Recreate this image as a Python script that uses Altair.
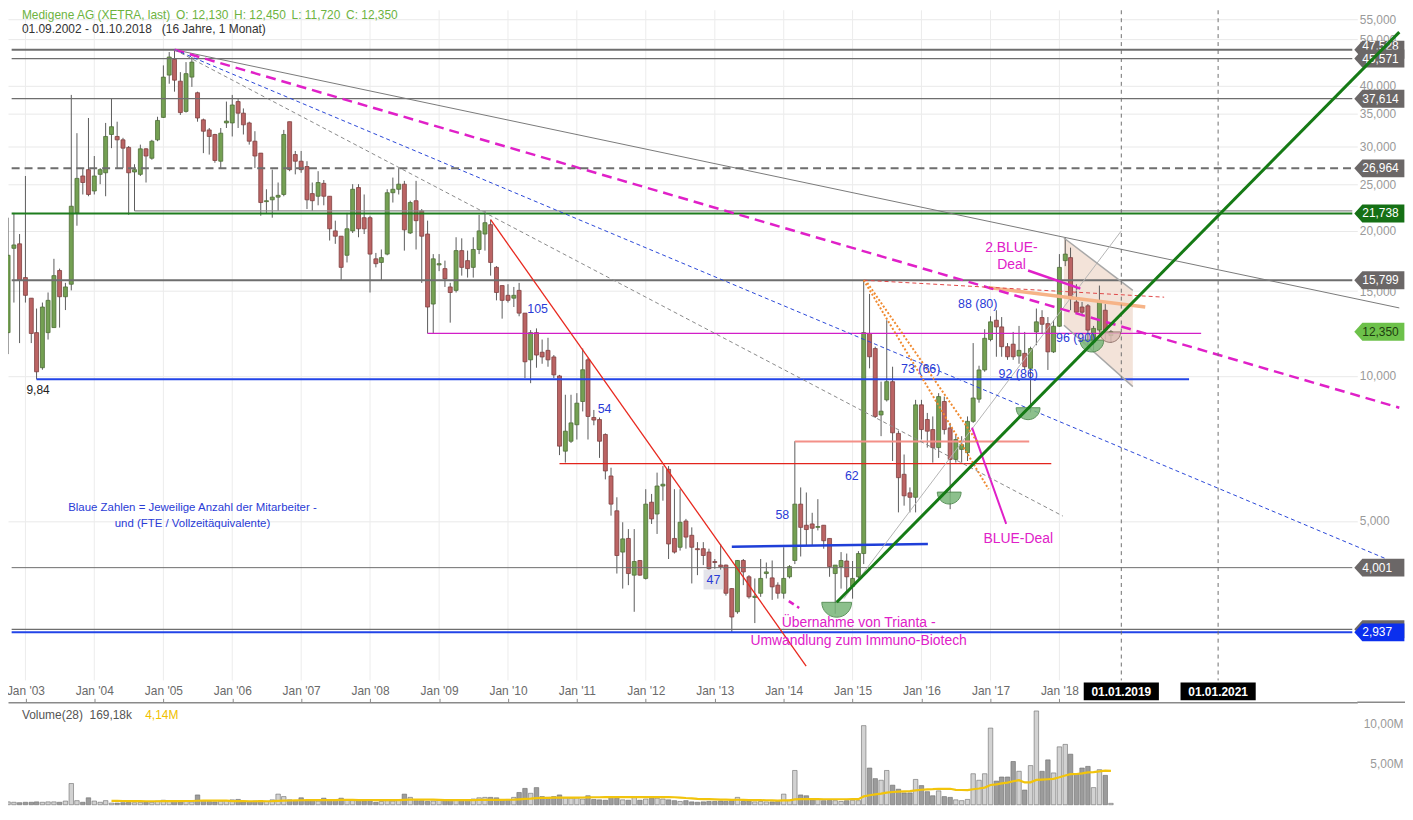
import altair as alt
import numpy as np
import pandas as pd

FONT = "Liberation Sans"

# ---------------- monthly candles, Sep 2002 .. Oct 2018 ----------------
months = pd.date_range("2002-09-01", periods=194, freq="MS").strftime("%Y-%m-%d").tolist()

open_ = [
    13.0, 12.3, 18.4, 18.8,
    16.0, 14.5, 12.3, 10.4, 12.3, 12.6, 16.55, 14.6, 15.5, 21.8, 26.0, 26.8,
    24.2, 26.2, 26.4, 31.7, 31.4, 30.9, 29.8, 26.5, 26.2, 29.6, 28.3, 30.9,
    34.4, 42.1, 45.4, 40.9, 35.4, 41.7, 38.7, 34.0, 32.4, 31.7, 27.9, 33.5,
    33.5, 37.1, 35.1, 33.5, 30.7, 29.0, 23.0, 23.2, 23.5, 23.8, 33.7, 28.8,
    27.9, 27.2, 23.9, 23.6, 25.1, 23.6, 20.0, 19.5, 17.8, 20.0, 24.6, 21.3,
    21.3, 17.5, 17.2, 17.9, 24.0, 24.4, 25.0, 19.8, 23.1, 22.0, 19.7, 14.1,
    17.0, 16.7, 15.3, 15.05, 18.2, 17.35, 16.8, 18.3, 19.7, 20.6, 16.8, 15.4,
    14.7, 14.5, 15.05, 13.5, 10.8, 12.3, 11.2, 11.3, 10.95, 10.0, 6.98, 7.32,
    7.92, 8.85, 10.8, 8.2, 8.12, 7.56, 6.2, 5.25, 4.31, 4.6, 3.86, 4.14,
    3.8, 5.47, 5.17, 5.91, 6.40, 4.6, 4.41, 5.0, 4.67, 4.38, 4.38, 4.31,
    4.12, 4.05, 4.05, 3.62, 3.24, 4.14, 3.83, 3.47, 3.54, 3.89, 3.81, 3.68,
    3.54, 3.83, 4.14, 5.42, 4.9, 4.93, 4.85, 4.9, 4.6, 3.89, 4.02, 4.13,
    3.66, 3.83, 4.28, 12.25, 11.4, 8.3, 8.92, 9.73, 7.6, 6.25, 5.72, 5.6,
    8.71, 8.12, 7.74, 7.1, 8.85, 7.8, 6.71, 7.04, 6.93, 8.05, 8.95, 10.29,
    11.9, 13.05, 12.64, 11.5, 11.64, 11.0, 11.14, 10.37, 12.34, 13.22, 12.84, 11.22,
    12.68, 17.35, 17.6, 14.24, 13.9, 13.98, 11.75, 12.45, 13.69, 12.13,
]
high = [
    15.0, 21.3, 21.8, 19.7,
    26.0, 14.5, 13.8, 14.2, 14.9, 17.5, 16.7, 15.6, 38.3, 31.9, 27.0, 34.3,
    28.6, 27.0, 33.5, 37.7, 33.7, 31.2, 30.0, 27.5, 30.2, 29.7, 30.9, 34.5,
    44.1, 47.0, 47.53, 42.7, 44.8, 45.9, 38.9, 34.2, 32.7, 31.8, 32.7, 37.1,
    38.3, 37.7, 35.9, 33.7, 32.2, 29.0, 24.4, 26.8, 25.2, 32.4, 33.7, 29.3,
    29.3, 27.9, 25.2, 26.6, 25.5, 23.6, 21.0, 19.5, 21.8, 25.0, 25.0, 23.8,
    21.5, 18.0, 18.3, 24.4, 25.8, 27.0, 25.4, 23.1, 25.4, 22.2, 21.0, 17.9,
    17.9, 17.35, 15.6, 19.4, 19.3, 18.2, 19.4, 21.6, 22.0, 21.1, 16.9, 15.4,
    15.5, 15.3, 15.6, 13.5, 12.45, 12.55, 11.9, 12.0, 11.05, 10.05, 9.14, 9.14,
    9.21, 11.4, 10.9, 8.5, 8.2, 7.6, 6.45, 5.6, 4.97, 4.81, 4.81, 4.15,
    5.82, 5.69, 6.30, 6.5, 6.50, 5.82, 5.82, 5.05, 4.85, 4.52, 4.52, 4.38,
    4.17, 4.48, 4.06, 3.63, 4.15, 4.17, 3.86, 3.8, 4.17, 4.1, 4.14, 3.73,
    4.41, 4.05, 7.32, 5.87, 5.73, 5.2, 5.55, 4.9, 4.6, 4.05, 4.31, 4.28,
    4.13, 4.33, 15.8, 14.8, 11.5, 9.73, 13.05, 10.45, 7.7, 6.87, 5.87, 8.92,
    8.92, 8.38, 8.24, 9.21, 9.06, 7.99, 7.56, 7.5, 8.24, 11.7, 10.5, 12.5,
    13.3, 13.69, 13.25, 11.7, 12.34, 12.7, 12.34, 11.5, 13.8, 13.69, 13.25, 13.05,
    17.9, 19.4, 18.46, 15.5, 14.24, 14.1, 12.7, 15.4, 14.1, 12.45,
]
low = [
    11.5, 11.1, 14.2, 11.7,
    14.2, 11.7, 9.84, 10.3, 11.9, 12.6, 12.6, 13.7, 15.05, 20.5, 23.8, 23.6,
    23.8, 25.0, 23.6, 29.7, 27.0, 27.0, 21.6, 22.0, 26.0, 25.2, 28.1, 30.7,
    34.3, 40.4, 38.9, 34.8, 35.2, 39.8, 33.7, 29.0, 28.8, 27.7, 27.0, 32.7,
    31.4, 32.7, 31.7, 30.2, 27.0, 21.5, 21.8, 21.3, 22.0, 23.6, 26.6, 26.2,
    26.4, 22.2, 22.0, 22.6, 22.6, 19.1, 18.8, 15.8, 17.2, 19.8, 19.4, 19.7,
    14.9, 16.8, 15.8, 17.8, 22.9, 23.8, 18.2, 19.7, 18.3, 15.6, 12.25, 12.25,
    16.5, 15.3, 12.9, 14.9, 16.15, 16.0, 16.0, 17.9, 18.2, 16.15, 14.35, 13.15,
    14.2, 13.9, 13.3, 9.9, 9.66, 10.4, 10.6, 10.45, 9.9, 6.85, 6.61, 7.26,
    7.38, 8.44, 7.38, 7.9, 6.76, 6.10, 5.13, 3.89, 3.62, 3.68, 3.24, 3.85,
    3.78, 4.93, 4.70, 5.51, 4.17, 4.28, 4.34, 4.38, 3.71, 3.86, 4.05, 3.80,
    3.98, 3.90, 3.5, 2.94, 3.21, 3.68, 3.45, 3.07, 3.48, 3.8, 3.43, 3.45,
    3.45, 3.80, 4.07, 4.22, 4.45, 4.45, 4.78, 4.38, 3.83, 3.21, 3.62, 3.54,
    3.45, 3.80, 4.07, 10.37, 8.18, 7.5, 8.85, 6.66, 5.21, 5.38, 5.21, 5.21,
    7.38, 7.1, 6.61, 6.76, 7.56, 5.29, 6.61, 6.61, 6.66, 7.99, 8.8, 10.2,
    11.8, 10.96, 10.96, 10.8, 10.8, 10.6, 10.29, 8.4, 11.58, 12.25, 10.29, 11.16,
    12.64, 16.9, 13.69, 13.45, 13.3, 11.6, 11.3, 12.34, 11.9, 11.72,
]
close = [
    12.3, 17.8, 18.7, 15.8,
    14.7, 12.25, 10.2, 13.9, 14.35, 16.15, 14.6, 15.3, 22.5, 25.7, 25.2, 23.8,
    26.0, 26.8, 31.4, 32.9, 30.9, 29.7, 26.4, 26.8, 29.6, 28.6, 30.7, 33.9,
    41.7, 45.9, 41.1, 35.2, 42.4, 44.8, 34.3, 32.2, 31.4, 28.0, 31.9, 33.8,
    36.5, 35.1, 33.2, 30.7, 28.6, 22.9, 23.1, 23.5, 23.7, 31.7, 26.8, 27.9,
    26.8, 23.2, 23.1, 25.2, 23.6, 20.2, 19.5, 16.8, 20.2, 24.4, 20.2, 20.2,
    17.9, 17.1, 17.6, 24.0, 24.4, 25.0, 20.1, 22.9, 21.0, 19.5, 13.9, 17.5,
    17.1, 15.9, 14.9, 18.2, 16.8, 16.7, 18.3, 20.0, 20.8, 17.2, 14.9, 14.35,
    14.35, 14.7, 13.5, 10.7, 12.3, 11.05, 10.95, 10.8, 10.05, 7.15, 7.68, 7.99,
    8.78, 10.3, 8.24, 8.1, 7.32, 6.35, 5.42, 4.24, 4.59, 3.89, 4.12, 3.86,
    5.42, 5.05, 5.91, 5.96, 4.48, 4.31, 4.97, 4.63, 4.41, 4.36, 4.24, 3.98,
    4.10, 4.02, 3.54, 3.16, 4.14, 3.92, 3.48, 3.49, 3.80, 3.92, 3.65, 3.54,
    3.80, 4.02, 5.42, 4.85, 4.8, 4.83, 4.87, 4.55, 4.02, 4.05, 4.14, 3.83,
    3.80, 4.28, 12.3, 10.96, 8.24, 8.45, 9.73, 7.62, 6.15, 5.64, 5.6, 8.71,
    7.74, 7.68, 7.1, 9.06, 7.74, 6.71, 7.38, 7.2, 8.05, 9.0, 10.29, 11.97,
    12.95, 12.64, 11.5, 10.96, 10.96, 11.3, 10.45, 11.4, 12.95, 12.8, 11.22, 12.68,
    16.8, 17.9, 14.46, 13.56, 13.56, 12.45, 12.55, 14.24, 12.45, 12.35,
]
volume_m = [
    0.25, 0.35, 0.3, 0.25,
    0.3, 0.3, 0.35, 0.3, 0.35, 0.35, 0.3, 0.45, 2.6, 0.5, 0.3, 0.85,
    0.45, 0.3, 0.5, 0.2, 0.2, 0.25, 0.3, 0.25, 0.3, 0.3, 0.3, 0.45,
    0.55, 0.5, 0.5, 0.35, 0.4, 0.35, 1.2, 0.5, 0.4, 0.35, 0.45, 0.5,
    0.6, 0.65, 0.35, 0.4, 0.45, 0.5, 0.4, 0.6, 1.3, 1.0, 0.6, 0.5,
    0.85, 0.5, 0.5, 0.45, 0.8, 0.5, 0.55, 0.8, 0.6, 0.5, 0.5, 0.45,
    0.5, 0.3, 0.4, 0.5, 0.45, 0.6, 1.3, 0.9, 0.5, 0.5, 0.4, 0.45,
    0.55, 0.5, 0.6, 0.6, 0.5, 0.55, 0.7, 0.85, 0.9, 0.9, 0.85, 0.6,
    0.65, 0.9, 1.5, 2.0, 1.4, 2.1, 1.0, 0.9, 1.0, 1.2, 0.85, 0.8,
    0.85, 0.7, 1.1, 0.65, 0.6, 0.55, 0.9, 0.8, 0.6, 0.55, 0.9, 0.55,
    0.7, 0.85, 0.8, 0.7, 0.6, 0.5, 0.4, 0.5, 0.35, 0.3, 0.35, 0.4,
    0.4, 0.45, 0.4, 0.5, 0.9, 0.4, 0.45, 0.35, 0.4, 0.35, 0.35, 0.4,
    1.3, 0.55, 4.2, 1.2, 1.1, 0.6, 0.65, 0.5, 0.55, 0.5, 0.4, 0.5,
    0.55, 0.5, 9.7, 4.5, 3.2, 3.0, 4.2, 2.4, 1.9, 1.45, 1.45, 3.1,
    2.35, 1.6, 1.1, 1.7, 1.0, 0.9, 0.6, 0.5, 0.65, 3.8, 3.0, 3.8,
    9.4, 2.9, 3.4, 3.4, 5.3, 4.1, 1.8, 4.8, 11.5, 4.1, 5.5, 3.9,
    7.1, 7.4, 6.2, 3.8, 4.5, 4.7, 2.1, 4.3, 3.6, 0.17,
]
assert len(open_) == len(high) == len(low) == len(close) == len(volume_m) == len(months) == 194

# ---------------- drawings ----------------
D0, DE = "2002-10-20", "2022-04-02"
solid_lines = [  # x1, y1, x2, y2, colour, width
    (D0, 47.528, DE, 47.528, "#6e6e6e", 2),
    (D0, 45.571, DE, 45.571, "#6e6e6e", 1.2),
    (D0, 37.614, DE, 37.614, "#6e6e6e", 1.2),
    ("2004-08-01", 22.0, DE, 22.0, "#8c8c8c", 1.2),
    (D0, 21.738, DE, 21.738, "#1e7d1e", 2),
    (D0, 15.799, DE, 15.799, "#6e6e6e", 2),
    (D0, 4.001, DE, 4.001, "#6e6e6e", 1),
    (D0, 2.98, DE, 2.98, "#6e6e6e", 1.2),
    (D0, 2.937, DE, 2.937, "#2244e8", 2),
    ("2003-03-01", 9.84, "2019-11-19", 9.84, "#2244e8", 2),
    ("2008-11-01", 12.26, "2020-01-22", 12.26, "#d21fc8", 1.2),
    ("2010-10-01", 6.58, "2017-11-19", 6.58, "#e3241c", 1.2),
    ("2014-03-01", 7.31, "2017-07-25", 7.31, "#f39088", 2),
    ("2013-04-01", 4.42, "2016-02-04", 4.48, "#1f3fd8", 2.5),
    ("2005-03-01", 47.53, "2022-12-07", 13.84, "#7a7a7a", 1),
    ("2009-10-01", 21.1, "2014-04-30", 2.5, "#e8281e", 1.3),
    ("2014-11-16", 3.45, "2018-11-25", 20.0, "#b4b4b4", 1),
    ("2016-12-22", 15.25, "2019-04-01", 13.9, "#f6b488", 3.5),
    ("2018-01-25", 19.33, "2019-01-25", 15.05, "#a8a8a8", 1.5),
    ("2018-01-25", 12.74, "2019-01-25", 9.5, "#a8a8a8", 1.5),
    ("2016-09-25", 7.81, "2017-03-25", 4.93, "#e020c8", 2),
    ("2017-07-19", 16.55, "2018-04-22", 15.18, "#e020c8", 2.5),
]
green_trend = [("2014-10-09", 3.39, "2022-12-07", 51.7, "#157a15", 3)]
dashed_groups = [  # (dash, width, [(x1, y1, x2, y2, colour)])
    ([10, 6], 2.5, [("2005-03-01", 47.53, "2022-12-07", 8.59, "#e020c8")]),
    ([4, 3], 1, [("2005-03-01", 47.53, "2022-09-30", 4.17, "#2a48d8"),
                 ("2005-03-01", 47.53, "2018-01-19", 5.12, "#8a8a8a"),
                 ("2015-03-01", 15.8, "2019-07-10", 14.57, "#e04848")]),
    ([8, 5], 2, [(D0, 26.964, DE, 26.964, "#6e6e6e")]),
    ([2, 2], 2, [("2015-03-01", 15.8, "2016-12-22", 5.82, "#f08a30"),
                 ("2015-03-20", 15.6, "2016-10-22", 7.31, "#f08a30")]),
    ([6, 4], 2.5, [("2014-01-28", 3.41, "2014-03-24", 3.30, "#e020c8")]),
]
shade_dates = ["2018-01-25", "2019-01-25"]
shade_top = [19.33, 15.05]
shade_bottom = [12.74, 9.5]

semi_dates = ["2014-10-09", "2016-05-27", "2017-07-19", "2018-06-22", "2018-09-27"]
semi_prices = [3.39, 5.74, 8.59, 11.87, 12.34]
semi_sizes = [900, 576, 576, 576, 441]
semi_fill = ["#79b679", "#79b679", "#79b679", "#79b679", "#dcbdb4"]
semi_edge = ["#3f7f3f", "#3f7f3f", "#3f7f3f", "#3f7f3f", "#8c6c64"]

staff_dates = ["2010-06-07", "2011-05-28", "2012-12-25", "2013-12-25", "2014-12-28",
               "2015-12-28", "2016-10-25", "2017-05-28", "2018-03-28"]
staff_prices = [13.74, 8.55, 3.78, 5.14, 6.19, 10.34, 14.08, 10.1, 11.97]
staff_labels = ["105", "54", "47", "58", "62", "73 (66)", "88 (80)", "92 (86)", "96 (90)"]

note_blue = [("2005-06-04", 5.32, "Blaue Zahlen = Jeweilige Anzahl der Mitarbeiter -"),
             ("2005-06-04", 4.93, "und (FTE / Vollzeitäquivalente)")]
note_magenta = [("2017-04-22", 18.46, "2.BLUE-"), ("2017-04-22", 16.95, "Deal"),
                ("2017-05-28", 4.59, "BLUE-Deal"),
                ("2015-02-02", 3.07, "Übernahme von Trianta -"),
                ("2015-02-02", 2.82, "Umwandlung zum Immuno-Biotech")]
low_note = [("2003-03-09", 9.36, "9,84")]

future_dates = ["2018-11-25", "2020-04-21"]
future_labels = ["01.01.2019", "01.01.2021"]

# price tags on the right edge: value, fill, text colour, text shown, text shift
tag_values = [47.528, 45.571, 37.614, 26.964, 21.738, 15.799, 12.350, 4.001, 2.98, 2.937]
tag_fill = ["#6b6767", "#6b6767", "#6b6767", "#6b6767", "#157015", "#6b6767",
            "#6dc14a", "#6b6767", "#6b6767", "#0b2fee"]
tag_text = ["white"] * 6 + ["#1d3d10"] + ["white"] * 3
tag_show = [True] * 8 + [False, True]
tag_dy = [-4] + [0] * 9

year_ticks = [f"{y}-01-01" for y in range(2003, 2019)]


def ms(s):
    return int(pd.Timestamp(s, tz="UTC").timestamp() * 1000)


# ---------------- tables ----------------
cdf = pd.DataFrame(dict(date=months, open=open_, high=high, low=low, close=close))
up = cdf["close"] >= cdf["open"]
cdf["fill"] = np.where(up, "#74a053", "#bb6464")
cdf["edge"] = np.where(up, "#4e6e38", "#804040")

vdf = pd.DataFrame(dict(date=months, vol=volume_m, idx=range(194)))
vdf["fill"] = np.where(up, "#d2d2d2", "#9c9c9c")

H = 799
XS = alt.Scale(type="utc", domain=[ms("2002-10-27"), ms(DE)], nice=False)
PS = alt.Scale(type="log", domain=[2.334, 57.39], range=[674, 0], nice=False, zero=False)
VS = alt.Scale(domain=[0, (H - 696) / ((H - 717) / 10)], range=[H, 696], nice=False, zero=True)

XA = alt.Axis(orient="top", offset=-696, values=[ms(d) for d in year_ticks],
              labelExpr="'Jan \\'' + utcFormat(datum.value, '%y')", grid=False, title=None,
              domainColor="#8a8a8a", domainWidth=1.5, tickColor="#8a8a8a", tickSize=4,
              labelPadding=1, labelColor="#6a6a6a", labelFontSize=12, labelFont=FONT,
              labelFlush=False, labelOverlap=False)
YA = alt.Axis(orient="right", values=[5, 10, 15, 20, 25, 30, 35, 40, 50, 55],
              labelExpr="replace(format(datum.value, '.3f'), '.', ',')",
              grid=True, gridColor="#e9e9e9", ticks=False, domain=False, title=None,
              labelPadding=2, labelColor="#9a9a9a", labelFontSize=12, labelFont=FONT,
              labelOverlap=False)
VA = alt.Axis(orient="right", values=[5, 10],
              labelExpr="replace(format(datum.value, '.2f'), '.', ',') + 'M'",
              grid=False, ticks=False, domain=False, title=None, labelAlign="right",
              labelPadding=46, labelColor="#9a9a9a", labelFontSize=12, labelFont=FONT,
              labelOverlap=False)


def X(f):
    return alt.X(f, scale=XS, axis=XA)


def Y(f):
    return alt.Y(f, scale=PS, axis=YA)


def V(f):
    return alt.Y(f, scale=VS, axis=VA)


# ---------------- price layers ----------------
vgrid = alt.Chart(pd.DataFrame({"d": year_ticks})).mark_rule(color="#ececec").encode(
    x=X("d:T"), y=alt.value(0), y2=alt.value(674))

shade = alt.Chart(pd.DataFrame({"d": shade_dates, "t": shade_top, "b": shade_bottom})).mark_area(
    color="#f0dcd0", opacity=0.8).encode(x=X("d:T"), y=Y("t:Q"), y2="b:Q")

wick = alt.Chart(cdf).mark_rule(color="#5c5c5c", strokeWidth=1, clip=True).encode(
    x=X("date:T"), y=Y("low:Q"), y2="high:Q")

body = alt.Chart(cdf).mark_bar(size=4, strokeWidth=0.8, clip=True).encode(
    x=X("date:T"), y=Y("open:Q"), y2="close:Q",
    color=alt.Color("fill:N", scale=None), stroke=alt.Stroke("edge:N", scale=None))


def seg_layer(rows, **mark):
    df = pd.DataFrame(rows, columns=["x1", "y1", "x2", "y2", "col", "w"])
    return alt.Chart(df).mark_rule(**mark).encode(
        x=X("x1:T"), x2="x2:T", y=Y("y1:Q"), y2="y2:Q",
        color=alt.Color("col:N", scale=None), strokeWidth=alt.StrokeWidth("w:Q", scale=None))


solid = seg_layer(solid_lines)
green = seg_layer(green_trend)

dashed = []
for dash, w, rows in dashed_groups:
    dashed.append(seg_layer([r + (w,) for r in rows], strokeDash=dash))

SEMI = "M-1,0 A1,1 0 0,0 1,0 Z"
semis = alt.Chart(pd.DataFrame({"d": semi_dates, "p": semi_prices, "s": semi_sizes,
                                "f": semi_fill, "e": semi_edge})).mark_point(
    shape=SEMI, filled=True, opacity=0.85, strokeWidth=1).encode(
    x=X("d:T"), y=Y("p:Q"),
    size=alt.Size("s:Q", scale=None), color=alt.Color("f:N", scale=None),
    stroke=alt.Stroke("e:N", scale=None))

vdash = alt.Chart(pd.DataFrame({"d": future_dates})).mark_rule(
    color="#707070", strokeDash=[4, 4], strokeWidth=1).encode(
    x=X("d:T"), y=alt.value(0), y2=alt.value(674))

sdf = pd.DataFrame({"d": staff_dates, "p": staff_prices, "t": staff_labels})
box47 = alt.Chart(sdf[sdf["t"] == "47"]).mark_point(
    shape="square", size=400, filled=True, color="#e4e4ea", opacity=1).encode(
    x=X("d:T"), y=Y("p:Q"))
staff = alt.Chart(sdf).mark_text(font=FONT, fontSize=12.5, color="#2a3bd6").encode(
    x=X("d:T"), y=Y("p:Q"), text="t:N")


def notes(rows, color, size):
    df = pd.DataFrame(rows, columns=["d", "p", "t"])
    return alt.Chart(df).mark_text(font=FONT, fontSize=size, color=color).encode(
        x=X("d:T"), y=Y("p:Q"), text="t:N")


blue_notes = notes(note_blue, "#2a3bd6", 11.5)
mag_notes = notes(note_magenta, "#e020c8", 14)
low_lbl = notes(low_note, "#222222", 12)

BOX = "M-2.1,-0.5 L2.1,-0.5 L2.1,0.5 L-2.1,0.5 Z"
fdf = pd.DataFrame({"d": future_dates, "t": future_labels})
fbox = alt.Chart(fdf).mark_point(shape=BOX, size=1296, filled=True, color="black", opacity=1).encode(
    x=X("d:T"), y=alt.value(685))
ftxt = alt.Chart(fdf).mark_text(font=FONT, fontSize=12, fontWeight="bold", color="white").encode(
    x=X("d:T"), y=alt.value(685.5), text="t:N")

TAG = "M0,0 L0.45,-0.5 L2.8,-0.5 L2.8,0.5 L0.45,0.5 Z"
tag_layers = []
for v, f, tc, show, dy in zip(tag_values, tag_fill, tag_text, tag_show, tag_dy):
    tdf = pd.DataFrame({"v": [v], "lab": [f"{v:.3f}".replace(".", ",")]})
    tag_layers.append(alt.Chart(tdf).mark_point(
        shape=TAG, size=1296, filled=True, opacity=1, color=f).encode(
        x=alt.value(1354), y=Y("v:Q")))
    if show:
        tag_layers.append(alt.Chart(tdf).mark_text(
            font=FONT, fontSize=12, align="left", color=tc, dy=dy).encode(
            x=alt.value(1362), y=Y("v:Q"), text="lab:N"))

hdr1 = alt.Chart(pd.DataFrame({"t": ["Medigene AG (XETRA, last)\u00a0\u2009O: 12,130\u00a0\u2009H: 12,450\u00a0\u2009L: 11,720\u00a0\u2009C: 12,350"]})).mark_text(
    font=FONT, fontSize=12, color="#6db33f", align="left", baseline="top").encode(
    x=alt.value(14), y=alt.value(0), text="t:N")
hdr2 = alt.Chart(pd.DataFrame({"t": ["01.09.2002 - 01.10.2018\u00a0\u00a0 (16 Jahre, 1 Monat)"]})).mark_text(
    font=FONT, fontSize=12, color="#333333", align="left", baseline="top").encode(
    x=alt.value(14), y=alt.value(14), text="t:N")

price = alt.layer(vgrid, shade, wick, body, solid, *dashed, semis, vdash, box47, staff,
                  blue_notes, mag_notes, low_lbl, fbox, ftxt, *tag_layers, green, hdr1, hdr2)

# ---------------- volume layers ----------------
vbar = alt.Chart(vdf).mark_bar(size=4.5, stroke="#6a6a6a", strokeWidth=0.6).encode(
    x=X("date:T"), y=V("vol:Q"), color=alt.Color("fill:N", scale=None))
sma = alt.Chart(vdf).transform_window(
    sma="mean(vol)", frame=[-27, 0], sort=[alt.SortField("date")]).transform_filter(
    "datum.idx >= 19").mark_line(color="#f2c40c", strokeWidth=2.2).encode(
    x=X("date:T"), y=V("sma:Q"))
vlab1 = alt.Chart(pd.DataFrame({"t": ["Volume(28)\u00a0 169,18k"]})).mark_text(
    font=FONT, fontSize=12, color="#555555", align="left").encode(
    x=alt.value(14), y=alt.value(709), text="t:N")
vlab2 = alt.Chart(pd.DataFrame({"t": ["4,14M"]})).mark_text(
    font=FONT, fontSize=12, color="#f0c000", align="left").encode(
    x=alt.value(138), y=alt.value(709), text="t:N")
sep = alt.Chart(pd.DataFrame({"a": [0]})).mark_rule(color="#8a8a8a", strokeWidth=1.5).encode(
    x=alt.value(1357), x2=alt.value(1405), y=alt.value(696))

volume = alt.layer(vbar, sma, vlab1, vlab2, sep)

chart = alt.layer(price, volume).resolve_scale(y="independent").properties(
    width=1357, height=H,
    autosize=alt.AutoSizeParams(type="none"),
    padding={"left": 0, "top": 0, "right": 48, "bottom": 0},
    background="white",
).configure_view(stroke=None)

chart.save("out.html", embed_options={"renderer": "svg", "actions": False})
